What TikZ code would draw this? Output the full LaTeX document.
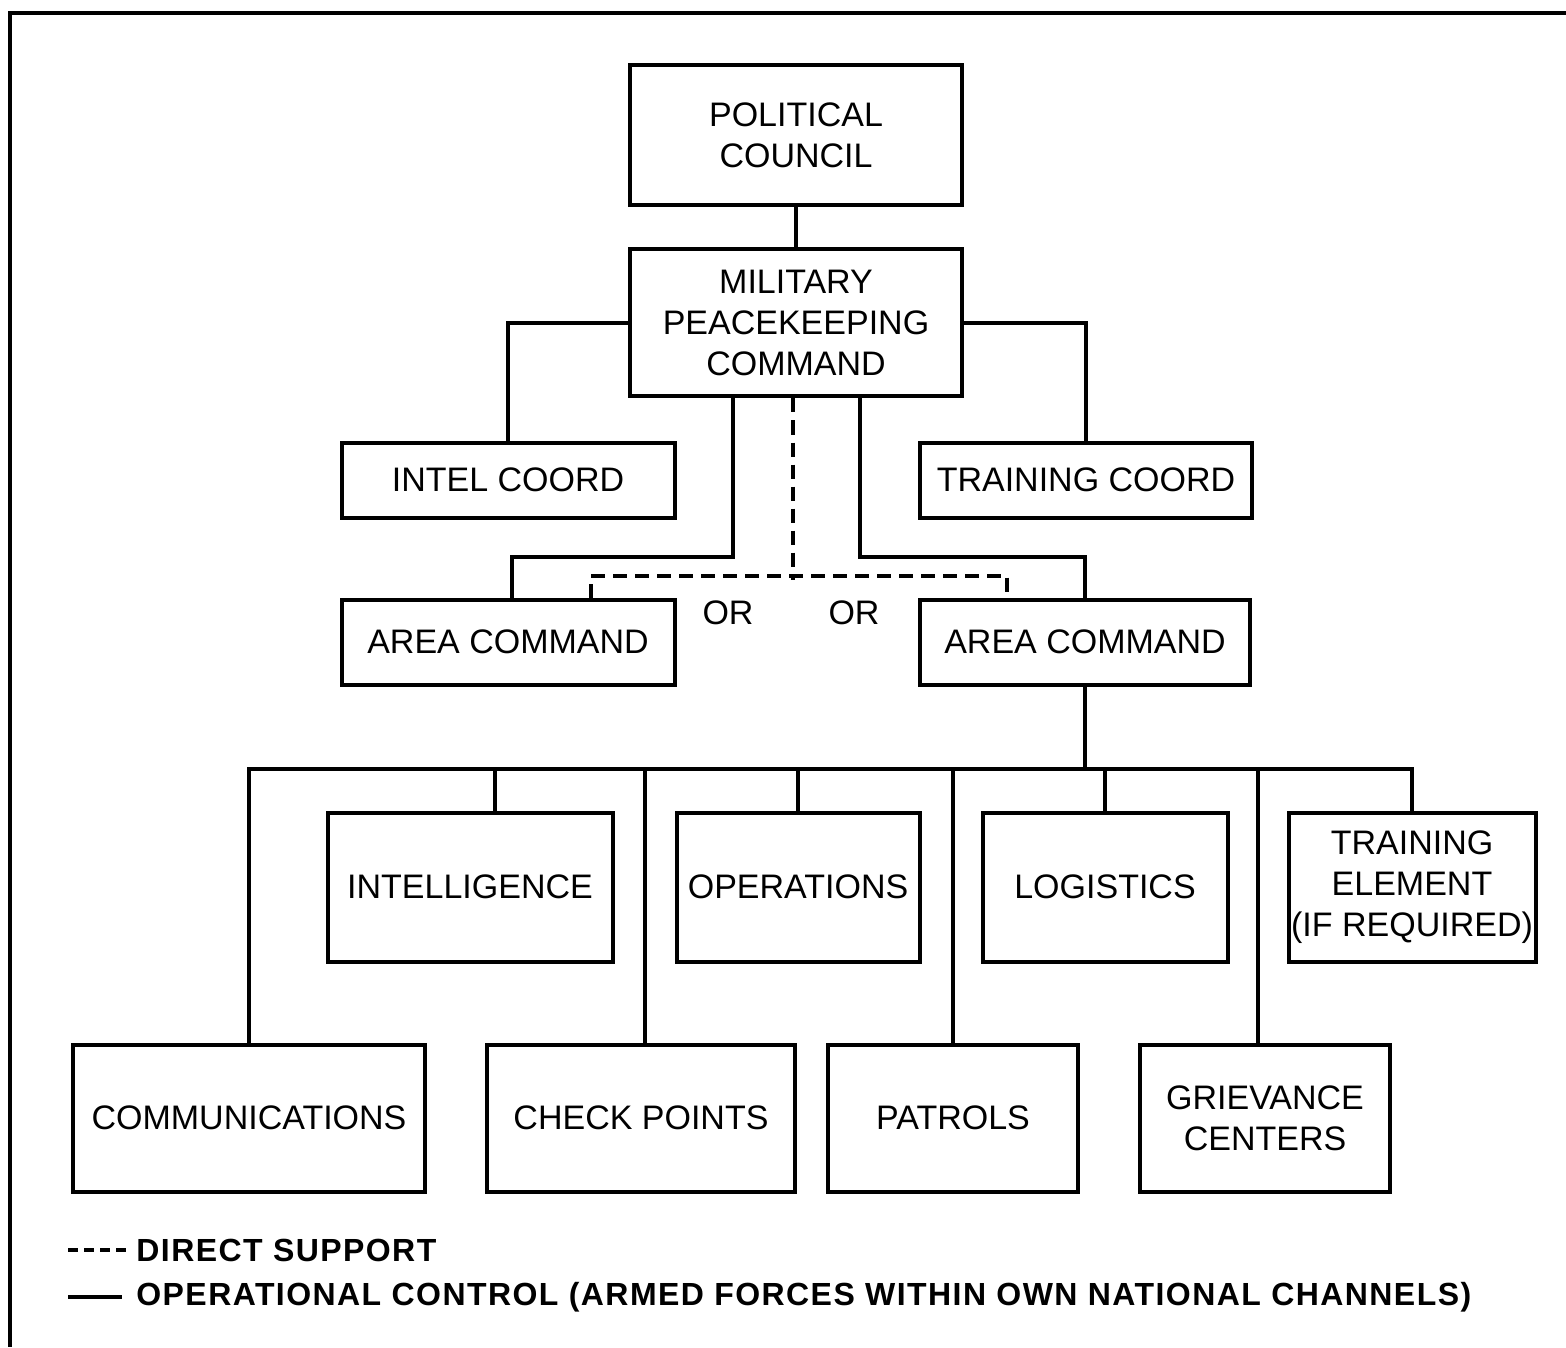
\documentclass[tikz,border=0pt]{standalone}
\usepackage{fontspec}
\setmainfont{Liberation Sans}
\begin{document}
\begin{tikzpicture}[x=0.5pt,y=-0.5pt,
  box/.style={draw,line width=2pt,fill=white,align=center,inner sep=0pt,font=\fontsize{17}{20.5}\selectfont},
  conn/.style={line width=2pt},
  ds/.style={line width=2pt,dash pattern=on 7pt off 4pt},
  lbl/.style={font=\fontsize{17}{20.5}\selectfont,inner sep=0pt},
  leg/.style={font=\fontsize{16}{19}\selectfont\bfseries\addfontfeature{LetterSpace=4.5},inner sep=0pt,anchor=west}]
\useasboundingbox (0,0) rectangle (1566,1347);
\draw[line width=2pt] (1566,13) -- (10,13) -- (10,1347);
% nodes
\node[box,minimum width=166pt,minimum height=70pt] (pc) at (796,135) {POLITICAL\\COUNCIL};
\node[box,minimum width=166pt,minimum height=73.5pt] (mpc) at (796,323) {MILITARY\\PEACEKEEPING\\COMMAND};
\node[box,minimum width=166.5pt,minimum height=37.5pt] (ic) at (508,480) {INTEL COORD};
\node[box,minimum width=166pt,minimum height=37.5pt] (tc) at (1086,480) {TRAINING COORD};
\node[box,minimum width=166.5pt,minimum height=42.5pt] (ac1) at (508,642) {AREA COMMAND};
\node[box,minimum width=165pt,minimum height=42.5pt] (ac2) at (1085,642) {AREA COMMAND};
\node[box,minimum width=142.5pt,minimum height=74.5pt] (intel) at (470,887) {INTELLIGENCE};
\node[box,minimum width=121.5pt,minimum height=74.5pt] (ops) at (798,887) {OPERATIONS};
\node[box,minimum width=122.5pt,minimum height=74.5pt] (log) at (1105,887) {LOGISTICS};
\node[box,minimum width=123.5pt,minimum height=74.5pt] (tre) at (1412,887) {TRAINING\\ELEMENT\\(IF REQUIRED)};
\node[box,minimum width=176pt,minimum height=73.5pt] (comm) at (249,1118) {COMMUNICATIONS};
\node[box,minimum width=154pt,minimum height=73.5pt] (chk) at (641,1118) {CHECK POINTS};
\node[box,minimum width=125pt,minimum height=73.5pt] (pat) at (953,1118) {PATROLS};
\node[box,minimum width=125pt,minimum height=73.5pt] (grv) at (1265,1118) {GRIEVANCE\\CENTERS};
\node[lbl] (or1) at (728,613) {OR};
\node[lbl] (or2) at (854,613) {OR};
% connectors
\draw[conn] (pc) -- (mpc);
\draw[conn] (mpc.west) -| (ic.north);
\draw[conn] (mpc.east) -| (tc.north);
\draw[conn] (mpc.south) ++(-63,0) -- ++(0,158) -| ([xshift=2pt]ac1.north);
\draw[conn] (mpc.south) ++(64,0) -- ++(0,158) -| (ac2.north);
\draw[ds] (mpc.south) ++(-3,0) -- ++(0,181);
\draw[ds] (ac1.north) ++(83,0) -- ++(0,-22) -- ++(416,0) -- ++(0,22);
\coordinate (bus) at (0,769);
\draw[conn] (ac2.south) -- (ac2.south |- bus);
\draw[conn] (comm.north) |- (tre.north |- bus) -- (tre.north);
\draw[conn] ([xshift=12.5pt]intel.north) -- ([xshift=12.5pt]intel.north |- bus);
\draw[conn] ([xshift=2pt]chk.north) -- ([xshift=2pt]chk.north |- bus);
\draw[conn] (ops.north) -- (ops.north |- bus);
\draw[conn] (pat.north) -- (pat.north |- bus);
\draw[conn] (log.north) -- (log.north |- bus);
\draw[conn] ([xshift=-3.5pt]grv.north) -- ([xshift=-3.5pt]grv.north |- bus);
% legend
\coordinate (l1a) at (68,1250);
\coordinate (l1b) at (126,1250);
\coordinate (l2a) at (68,1297);
\coordinate (l2b) at (122,1297);
\draw[line width=2pt,dash pattern=on 5pt off 3pt] (l1a) -- (l1b);
\draw[line width=2pt] (l2a) -- (l2b);
\node[leg] (lg1) at (136,1250) {DIRECT SUPPORT};
\node[leg] (lg2) at (136,1297) {OPERATIONAL CONTROL (ARMED FORCES WITHIN OWN NATIONAL CHANNELS)};
\end{tikzpicture}
\end{document}
